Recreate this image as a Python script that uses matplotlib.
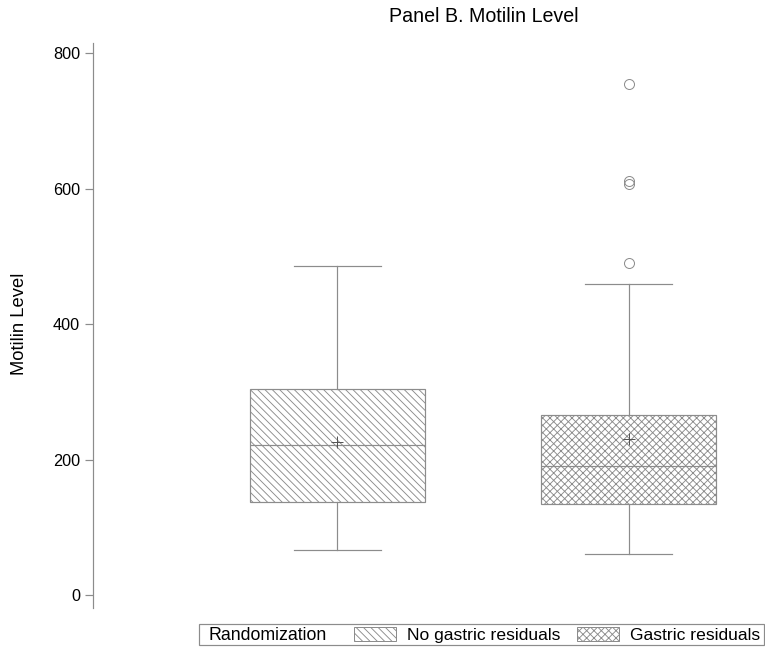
import matplotlib
matplotlib.use("Agg")
import matplotlib.pyplot as plt
from matplotlib.patches import Patch, Rectangle

DPI = 66


def px(v):
    """Convert a size in pixels to points at the figure resolution."""
    return v * 72 / DPI


# Summary statistics for each randomization group
groups = ["No gastric residuals", "Gastric residuals"]
whisker_low = [66, 60]
q1 = [137, 134]
medians = [221, 191]
q3 = [305, 266]
whisker_high = [486, 459]
means = [226, 230]
outliers = [[], [490, 607, 612, 754]]
hatches = ["\\\\\\", "xxx"]
y_ticks = [0, 200, 400, 600, 800]

plt.rcParams["font.family"] = ["Liberation Sans", "DejaVu Sans"]
plt.rcParams["hatch.linewidth"] = px(0.9)

gray = "#8c8c8c"
dark = "#555555"
leg_fs = px(17.5)

W, H = 765, 647
fig = plt.figure(figsize=(W / DPI, H / DPI), dpi=DPI)
ax = fig.add_axes([93 / W, 1 - 608 / H, (W - 93) / W, (608 - 43) / H])

stats = [
    dict(label=g, whislo=lo, q1=a, med=m, q3=b, whishi=hi, mean=mu, fliers=f)
    for g, lo, a, m, b, hi, mu, f in zip(
        groups, whisker_low, q1, medians, q3, whisker_high, means, outliers
    )
]

lw = px(1.2)
bp = ax.bxp(
    stats,
    positions=[1, 2],
    widths=0.6,
    capwidths=0.3,
    showmeans=True,
    patch_artist=True,
    boxprops=dict(facecolor="white", edgecolor=gray, linewidth=lw),
    whiskerprops=dict(color=gray, linewidth=lw),
    capprops=dict(color=gray, linewidth=lw),
    medianprops=dict(color=gray, linewidth=lw),
    meanprops=dict(marker="+", markeredgecolor=dark, markersize=px(12),
                   markeredgewidth=px(1), linestyle="none"),
    flierprops=dict(marker="o", markerfacecolor="none", markeredgecolor=gray,
                    markersize=px(10), markeredgewidth=px(1)),
)
for box, h in zip(bp["boxes"], hatches):
    box.set_hatch(h)

ax.set_xlim(0.16, 2.469)
ax.set_ylim(-19, 815)
for side in ("top", "right", "bottom"):
    ax.spines[side].set_visible(False)
ax.spines["left"].set_color(gray)
ax.spines["left"].set_linewidth(lw)
ax.set_xticks([])
ax.set_yticks(y_ticks)
ax.tick_params(axis="y", length=px(8), width=lw, color=gray,
               labelsize=px(16.2), labelcolor="black", pad=px(5))

fig.text(484 / W, 1 - 16 / H, "Panel B. Motilin Level",
         ha="center", va="center", fontsize=px(19.6))
fig.text(20 / W, 1 - 324 / H, "Motilin Level", rotation=90,
         ha="center", va="center", fontsize=px(18.4))

# Legend strip along the bottom
fig.patches.append(Rectangle((199 / W, 1 - 645 / H), (764 - 199) / W, 21 / H,
                             transform=fig.transFigure, facecolor="white",
                             edgecolor=gray, linewidth=lw))
fig.text(209 / W, 1 - 635 / H, "Randomization", ha="left", va="center",
         fontsize=px(17.7))
handles = [Patch(facecolor="white", edgecolor=gray, hatch=h, linewidth=px(1))
           for h in hatches]
fig.legend(handles=handles, labels=groups, ncol=2, loc="center left",
           bbox_to_anchor=(354 / W, 1 - 635 / H), frameon=False,
           fontsize=leg_fs, handlelength=42 / 17.5, handleheight=15 / 17.5,
           handletextpad=11 / 17.5, columnspacing=17 / 17.5,
           borderpad=0, borderaxespad=0)

fig.savefig("out.png", dpi=DPI)
